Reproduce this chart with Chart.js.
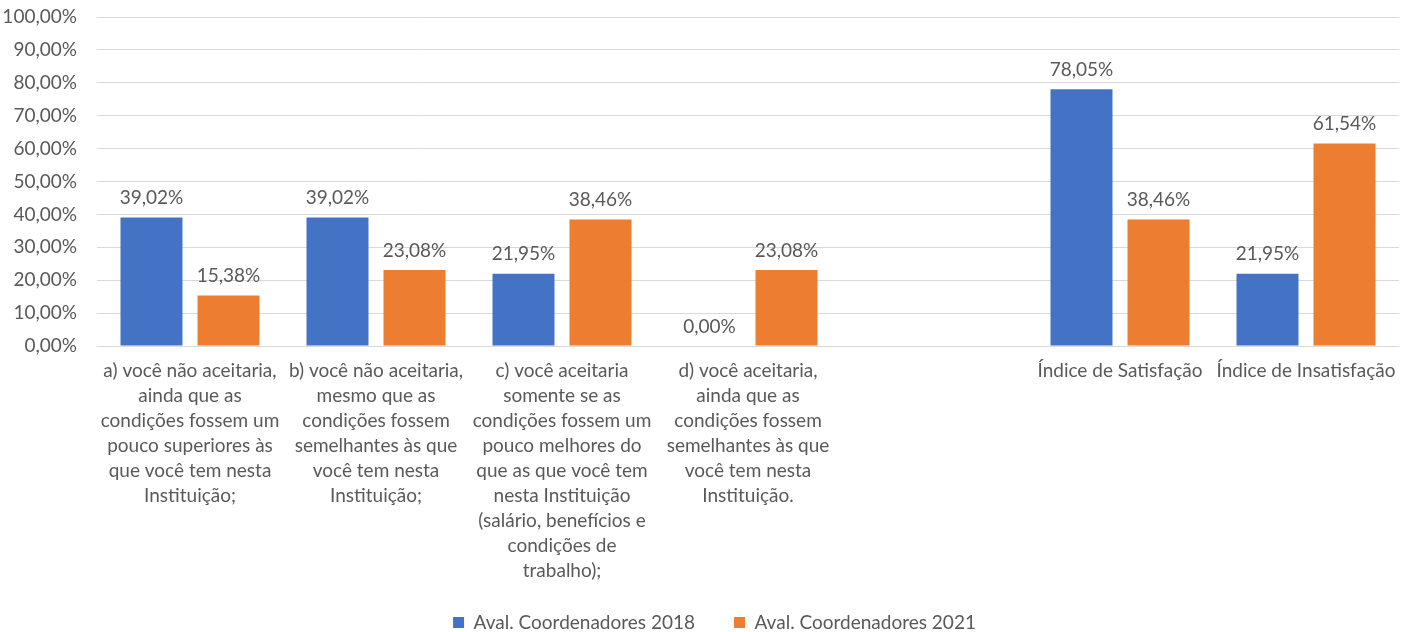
<!DOCTYPE html>
<html><head><meta charset="utf-8">
<script src="https://cdn.jsdelivr.net/npm/chart.js@4"></script>
<style>html,body{margin:0;padding:0;background:#fff}#wrap{width:1413px;height:632px}</style>
</head><body><div id="wrap"><canvas id="c"></canvas></div>
<script>
const categories = [
  ["a) você não aceitaria,", "ainda que as", "condições fossem um", "pouco superiores às", "que você tem nesta", "Instituição;"],
  ["b) você não aceitaria,", "mesmo que as", "condições fossem", "semelhantes às que", "você tem nesta", "Instituição;"],
  ["c) você aceitaria", "somente se as", "condições fossem um", "pouco melhores do", "que as que você tem", "nesta Instituição", "(salário, benefícios e", "condições de", "trabalho);"],
  ["d) você aceitaria,", "ainda que as", "condições fossem", "semelhantes às que", "você tem nesta", "Instituição."],
  "",
  "Índice de Satisfação",
  "Índice de Insatisfação"
];
const seriesNames = ["Aval. Coordenadores 2018", "Aval. Coordenadores 2021"];
const values2018 = [39.02, 39.02, 21.95, 0, null, 78.05, 21.95];
const values2021 = [15.38, 23.08, 38.46, 23.08, null, 38.46, 61.54];
const yTicks = [0, 10, 20, 30, 40, 50, 60, 70, 80, 90, 100];

const fmt = v => v.toFixed(2).replace('.', ',') + '%';
const FONT = "Lato, 'Liberation Sans', Arial, sans-serif";
const TXT = '#595959';
const FS = 19;

const labelPlugin = {
  id: 'valLabels',
  afterLayout(chart) {
    if (chart.legend) { chart.legend.left += 15; chart.legend.right += 15; }
  },
  afterDatasetsDraw(chart) {
    const ctx = chart.ctx;
    ctx.save();
    ctx.font = FS + 'px ' + FONT;
    ctx.fillStyle = TXT;
    ctx.textAlign = 'center';
    ctx.textBaseline = 'bottom';
    chart.data.datasets.forEach((ds, i) => {
      chart.getDatasetMeta(i).data.forEach((bar, j) => {
        const v = ds.data[j];
        if (v === null || v === undefined) return;
        ctx.fillText(fmt(v), bar.x, bar.y - 10);
      });
    });
    ctx.restore();
  }
};

Chart.defaults.font.family = FONT;
Chart.defaults.font.size = FS;
Chart.defaults.color = TXT;

new Chart(document.getElementById('c'), {
  type: 'bar',
  data: {
    labels: categories,
    datasets: [
      { label: seriesNames[0], data: values2018, backgroundColor: '#4472C4', categoryPercentage: 0.828, barPercentage: 0.805 },
      { label: seriesNames[1], data: values2021, backgroundColor: '#ED7D31', categoryPercentage: 0.828, barPercentage: 0.805 }
    ]
  },
  options: {
    responsive: true,
    maintainAspectRatio: false,
    animation: false,
    layout: { padding: { left: 0, right: 14, top: 17, bottom: -10 } },
    plugins: {
      legend: {
        position: 'bottom',
        labels: { boxWidth: 11, boxHeight: 11, padding: 39, font: { size: FS, family: FONT }, color: TXT }
      },
      tooltip: { enabled: false }
    },
    scales: {
      x: {
        afterFit: s => { s.height = 228; s._computeLabelArea = () => undefined; },
        grid: { display: false },
        border: { display: false },
        ticks: { autoSkip: false, maxRotation: 0, minRotation: 0, padding: 4, font: { size: FS, lineHeight: 25 / FS }, color: TXT }
      },
      y: {
        min: 0, max: 100,
        afterBuildTicks: s => { s.ticks = yTicks.map(v => ({ value: v })); },
        afterFit: s => { s.width = 97; s.paddingTop = 0; s.paddingBottom = 0; },
        grid: { color: '#d9d9d9', lineWidth: 1, drawTicks: false },
        border: { display: false },
        ticks: { padding: 20, callback: v => fmt(v), font: { size: FS }, color: TXT }
      }
    }
  },
  plugins: [labelPlugin]
});
</script></body></html>
